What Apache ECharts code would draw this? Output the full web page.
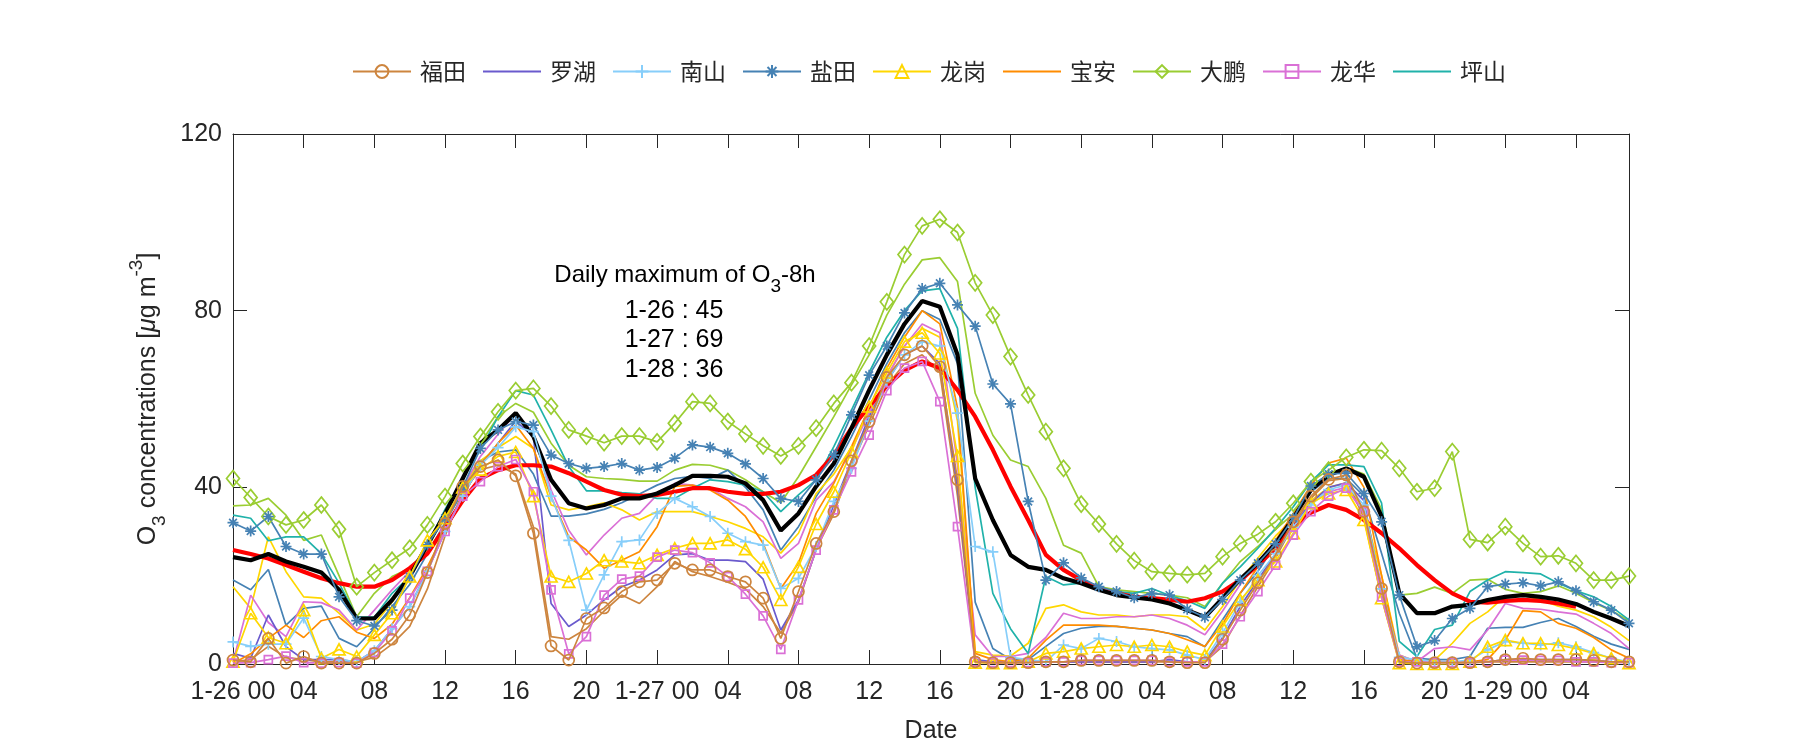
<!DOCTYPE html>
<html><head><meta charset="utf-8">
<script src="https://cdn.jsdelivr.net/npm/echarts@6/dist/echarts.min.js"></script>
<style>html,body{margin:0;padding:0;background:#fff}#c{width:1800px;height:750px}</style>
</head><body><div id="c"></div>
<script>
// ---------- tick labels / text ----------
const dayLabels = ['1-26', '1-27', '1-28', '1-29'];
const districtNames = ['福田', '罗湖', '南山', '盐田', '龙岗', '宝安', '大鹏', '龙华', '坪山'];
const annoTitle = 'Daily maximum of O{s|3}-8h';
const annoLines = ['1-26 : 45', '1-27 : 69', '1-28 : 36'];

// ---------- hourly values, h = 0 (1-26 00) ... 79 (1-29 07) ----------
const futian = [0.9,0.5,5.8,0.2,1.7,0.2,0.2,0.2,2.4,5.6,11.1,
  20.7,31.8,40.2,44.7,46.2,42.6,29.6,4.1,
  0.9,10.3,12.7,16.4,18.6,19,22.8,21.3,21.3,
  19.8,18.6,14.9,5.8,16.4,27.3,34.5,46,
  54.9,64.9,70,72,67.3,41.7,0.5,
  0.3,0.3,0.3,0.5,0.5,0.8,0.8,0.8,0.8,0.8,0.5,0.3,0.3,
  5.6,12.2,18.4,24.7,32.2,38,41.8,42.8,34.5,17.1,0.5,0.2,
  0.3,0.3,0.3,0.5,1,1.3,1,1,1,0.8,0.5,0.5];
const luohu = [2.4,1.3,11.1,3.9,1,1,1,0.5,3,8,13,
  21,30,38,45,50,55,51.5,13.7,
  8.5,11.1,14.5,17.5,19,21.3,24.7,25,23.5,
  23.5,23.2,19.2,7.7,14.5,25.8,36,46,
  56,64,70,72,68,40,1,
  0.5,0.5,0.5,0.5,0.5,0.5,0.5,0.5,0.5,0.5,1,0.5,0.5,
  6,13,19,25,31,36.5,40,41,37,16,1,0.5,
  0.5,0.5,0.5,0.5,1,1,1,1,1,0.8,0.5,0.5];
const nanshan = [5,4,4.5,4.5,10.4,1.7,1,0.5,3,8,13,
  21,30,38,45,49,53.7,52.6,38,
  28,12.2,20.2,27.7,28.1,34.1,37.5,35.6,33.4,
  29.6,27.7,26.9,17.1,19.4,26.6,36.8,44.3,
  55,64,70,73,72,56.8,26.6,
  25.4,1.5,1,0.5,4.3,3.5,5.8,5.1,3.9,3.5,3.2,2,1,
  7,14,20,25,31,36,39.5,40.5,36,17,1.5,1,
  0.5,0.5,0.9,3.2,5.1,4.7,4.3,4.8,3.9,2.6,1.3,0.5];
const yantian = [32,30.1,33.4,26.6,24.9,24.9,15.2,9.8,8.6,12.2,19.8,
  27,33,40,48.8,53,54.9,54.1,47.3,
  45.4,44.3,44.7,45.4,43.9,44.5,46.6,49.6,49.1,
  47.7,45.3,42,37.5,36.8,41.7,47.3,56.4,
  65.4,72,79.5,85,86.2,81.3,76.5,
  63.4,58.9,36.8,19,22.9,19.5,17.5,16.4,15,16,15.6,12.4,10.6,
  14.6,19,22.8,27.2,33,40.3,43,43.2,38.6,32.2,15.6,3.9,
  5.3,10.3,12.6,17.5,18.1,18.4,17.7,18.6,16.6,14.1,12.2,9.2];
const longgang = [0.5,11.5,6,4.7,12.2,1.3,3.3,1.7,6.6,11.5,19.8,
  28,33,40,44,47,48,38,19.8,
  18.6,20.5,23.5,23.2,22.8,24.7,26.2,27.3,27.3,
  28.1,26,21.9,14.5,22,31.7,39,48,
  58.3,66,73,75,70.3,47.1,0.3,
  0.2,0.2,0.5,2.4,2.8,3.5,3.9,4.3,3.9,4.3,3.9,2.8,2,
  8.5,14.5,19,23.2,29.6,36.4,38.6,39.4,32.6,14.9,0.2,0,
  0,0,0.5,3.9,5.4,4.7,4.7,4.3,3.5,2.4,1.3,0.2];
const baoan = [0.1,2.3,5.8,8.8,6,9.8,10.7,7.2,5.8,9,15,
  22,30,38,45,50,54.1,48.8,37.9,
  28.8,25.8,21.7,23.5,25.4,31.1,40.2,40.5,39.4,
  37.1,33.4,27.3,17.1,22.8,34.1,40.9,49.2,
  58,67,74,80,77,58,2.4,
  1,0.5,1.3,5.4,8.8,8.8,8.8,8.5,8.1,7.7,6.9,5.5,4,
  9,16,22,28,34,40.5,45.5,46.6,40,20,1,0.5,
  0.5,0.5,0.5,1,5.4,12.1,11.8,9.2,8.1,6,3.2,1.3];
const dapeng = [42,37.7,33.4,31.5,32.6,36,30.5,17.5,20.7,23.5,26.2,
  31.5,37.9,45.4,51.5,57.1,61.9,62.4,58.4,
  53,51.6,50.1,51.6,51.6,50.3,54.5,59.4,59,
  54.9,52.1,49.4,47.1,49.4,53.4,59,63.7,
  72,82,92.7,99.2,100.7,97.7,86.3,
  79,69.6,60.9,52.6,44.3,36.2,31.7,27.2,23.4,20.9,20.5,20.2,20.5,
  24.3,27.3,29.4,32.2,36.4,41.3,43.9,46.8,48.5,48.3,44.3,39,
  39.8,48.1,28.2,27.5,31.1,27.3,24.3,24.5,22.8,19,19,19.9];
const longhua = [0.2,0.3,1,1.8,0.3,0.2,0.3,0.2,2.6,7.5,14.9,
  21,30,38,41.3,44.7,46.3,39,16.8,
  2.3,6.2,15.6,19.2,19.9,24.2,25.8,25.2,22.9,
  19.8,15.8,10.9,3.3,14.5,25.8,34.9,43.5,
  51.8,61.9,67,68.5,59.4,31.1,0.5,
  0.3,0.3,0.3,0.5,0.5,0.8,0.8,0.8,0.8,0.8,0.5,0.5,0.5,
  4.5,10.7,16.4,22.4,29.2,34.5,38,39.8,34.5,15.2,0.5,0.5,
  0.3,0.3,0.3,0.5,0.9,0.9,0.8,0.8,0.5,0.5,0.3,0.3];
const pingshan = [33.7,33,27.9,28.8,28.8,25,18.3,10.6,10.6,16,19.8,
  27,35,42,48.5,56,61.9,60.9,53,
  44.7,39.2,39.2,38.8,38.5,37.5,37.5,39.8,41.7,
  41.3,40.5,39,34.5,38.3,41.7,49.2,57.5,
  66,74,80,84.5,85,76,40,
  16,8,2.4,19.8,17.9,18.3,17.1,16.4,16,17.1,15.5,14.3,12.6,
  18.3,22,26.2,30.7,35.6,41.3,45.1,45.1,44.7,36.4,5.1,1.7,
  7.8,8.8,16.4,19,20.9,20.7,20.4,18.3,16.6,15.2,13,10];
// lines without legend entries
const redLine = [25.8,24.9,23.9,22.4,20.9,19.4,18.3,17.5,17.5,19,21.7,
  25,31,37,42,43.9,45,45,44.7,
  43.2,41.3,39.4,38.3,38,38.3,39,39.8,39.8,
  39,38.5,38.5,39,40.5,42.8,47.3,53.4,
  58.3,63,66.5,68.5,67,62,56,
  48.5,40.2,32.6,24.7,21.3,19,17.1,16,15.2,14.9,14.5,14.1,14.9,
  16.4,19,22.4,26.2,31.1,34.3,36,34.9,32.6,29.6,26.2,22.4,
  19,16,14.1,13.9,14.3,14.5,14.3,13.7,13,null,null,null];
const blackLine = [24.2,23.5,24.9,23.2,22,20.7,16.8,10.3,10.3,14.5,19.8,
  27,34,42,50,53,56.8,51.5,41.7,
  36.4,35.2,36,37.5,37.5,38.6,40.5,42.6,42.6,
  42.4,40.9,37.1,30.2,34.1,40.2,45.4,53.4,
  62,70,77,82.2,80.9,70,42,
  32.6,24.7,22,21.3,19.4,18.3,16.8,15.6,15.1,14.6,13.7,12.2,10.6,
  14.9,19.2,22.9,27.3,33,39.4,42.8,44.3,42.4,33.4,16,11.5,
  11.5,13,13.4,14.5,15.2,15.6,15.2,14.6,13.6,11.8,10.3,8.6];
const greenPlain = [35.8,36,37.5,33.7,28,29.2,20,10.7,16,19.8,21.7,
  26,34,42,50,56,59,57,50,
  45,42.4,42,41.8,41.4,41.4,43.9,45.2,45,
  43.9,41.7,39,36.5,42.4,49.2,56,63.2,
  70,79,86,91.5,92,86.6,61.3,
  51.8,46.2,44.7,37.5,26.9,25.1,17.5,16.8,16.4,16,15.6,15,13,
  18.3,23.2,26.6,30.5,34,40,43,44.5,43,35,15.6,16,
  17.4,16,19,19.2,16.9,16,16.4,17.7,16,13.9,12.1,9.8];
const steelPlain = [19,16.8,21.4,8.8,12.6,13.1,5.8,3.9,8.1,13,18,
  25,32,39,46,48,48.5,43,33.5,
  33.5,34,35,36.5,38.5,40.5,42,42.5,42,
  43.9,40,34.9,25.8,31.1,37.9,43.9,51.5,
  59.8,68,75,80,78,68,14,
  3.5,1,1,4,6.9,8.1,8.5,8.5,8.1,7.7,6.9,6.2,3.9,
  10,16,21,27,33,39,42,42,38,25,11.5,1.3,
  1,1,1.7,8.1,8.3,8.3,9.4,10.3,8.5,6.3,4.5,3.3];
const goldPlain = [17.5,12.6,28.8,20.9,15.2,14.9,11.5,7.7,9,14,20,
  27,33,40,46,49,51.5,48.8,36,
  34.9,35.6,36.5,34.9,32.6,34.5,34.5,34.5,33.4,
  32.2,30.7,28.8,25.1,29.6,38.6,43,49,
  57,65,72,76,74,55,2.8,
  2,1.8,4.7,12.6,13.4,11.8,11.1,11.1,10.7,11.1,11.1,10.7,7.7,
  13,19,24,29,33,37,40,41,35,20,2,0.5,
  0.9,4.7,9.2,11.8,15.4,15.6,14.5,13.1,12.2,10.7,8.3,5.3];
const orchidPlain = [0.5,15.6,9.4,6.2,14.1,13.9,12.2,7.7,12.2,16.8,21,
  27,33,40,47,52,56.8,52.2,39.4,
  30.3,24.7,29.2,33,34.1,38.3,40.9,40.5,39.8,
  37.5,35.6,32.2,23.9,27.3,37.1,41.3,48.5,
  56.8,65,72,77,75,45,6.6,
  1.7,1.7,2.4,6,11.5,10.3,10.3,10.7,10.7,11.1,10.3,8.8,6.6,
  12,18,23,28,32,36.5,39,40,34,18,2,0.5,
  3.5,3.9,3.2,7.7,13.7,12.6,12.4,11.8,11.3,9.2,6.9,3.5];
const peruPlain = [0.5,1,4,1.5,1,0.5,0.5,0.5,1.5,4.5,8.5,
  17,29,39,44,45,43,31,6.2,
  5.6,8,12,15.6,13.7,17.5,23.2,20.9,19.8,
  18.5,17,13,7,14,26,34,45,
  54,63,68,70,66,38,0.5,
  0.5,0.5,0.5,0.5,0.5,0.5,0.5,0.5,0.5,0.5,0.5,0.5,0.5,
  4,11,17.5,24,31.5,37.5,41.5,42,33,15,0.5,0.3,
  0.5,0.5,0.5,0.5,0.5,0.5,0.5,0.5,0.5,0.5,0.5,0.5];

// ---------- styling ----------
const TXT = '#262626';
const FONT = '"Liberation Sans", Arial, "Noto Sans CJK SC", sans-serif';
const SYM = {
  circle: {symbol: 'circle', size: 11},
  plus: {symbol: 'path://M0,-1L0,1M-1,0L1,0', size: 11},
  star: {symbol: 'path://M0,-1L0,1M-1,0L1,0M-0.7,-0.7L0.7,0.7M-0.7,0.7L0.7,-0.7', size: 11},
  tri: {symbol: 'triangle', size: [12, 11]},
  diamond: {symbol: 'diamond', size: [13, 16]},
  square: {symbol: 'rect', size: 8}
};
function toPairs(arr) {
  const out = [];
  arr.forEach((v, i) => { if (v !== null && v !== undefined) out.push([i, v]); });
  return out;
}
function mk(name, arr, color, marker, width, z) {
  const s = {
    type: 'line', name: name, data: toPairs(arr), z: z || 2,
    silent: true, animation: false, emphasis: {disabled: true},
    lineStyle: {color: color, width: width || 1.7},
    showAllSymbol: true, clip: true
  };
  if (marker) {
    s.symbol = SYM[marker].symbol;
    s.symbolSize = SYM[marker].size;
    s.itemStyle = {color: 'rgba(0,0,0,0)', borderColor: color, borderWidth: 1.7};
  } else {
    s.symbol = 'none';
    s.itemStyle = {color: 'rgba(0,0,0,0)', borderColor: 'rgba(0,0,0,0)', borderWidth: 0};
  }
  return s;
}

const series = [
  mk('_g', greenPlain, '#9ACD32', null),
  mk('_s', steelPlain, '#4682B4', null),
  mk('_y', goldPlain, '#FFD700', null),
  mk('_o', orchidPlain, '#DA70D6', null),
  mk('_p', peruPlain, '#CD853F', null),
  mk(districtNames[1], luohu, '#6A5ACD', null, 1.7, 3),
  mk(districtNames[5], baoan, '#FF8C00', null, 1.7, 3),
  mk(districtNames[8], pingshan, '#20B2AA', null, 1.7, 3),
  mk('_red', redLine, '#FF0000', null, 4.2, 4),
  mk('_black', blackLine, '#000000', null, 4.2, 4),
  mk(districtNames[6], dapeng, '#9ACD32', 'diamond', 1.7, 5),
  mk(districtNames[3], yantian, '#4682B4', 'star', 1.7, 5),
  mk(districtNames[2], nanshan, '#87CEFA', 'plus', 1.7, 5),
  mk(districtNames[4], longgang, '#FFD700', 'tri', 1.7, 5),
  mk(districtNames[7], longhua, '#DA70D6', 'square', 1.7, 5),
  mk(districtNames[0], futian, '#CD853F', 'circle', 1.7, 6)
];

function xLabel(v) {
  if (v % 4 !== 0) return '';
  const hh = v % 24;
  if (hh === 0) return dayLabels[v / 24] + ' 00';
  return (hh < 10 ? '0' : '') + hh;
}

const axisLine = {show: true, onZero: false, lineStyle: {color: TXT, width: 1}};
const axisTick = {show: true, inside: true, length: 14, lineStyle: {color: TXT, width: 1}};
const annoStyle = {fontSize: 24, fontFamily: FONT, fill: '#000',
  textAlign: 'center', textVerticalAlign: 'middle', align: 'center', verticalAlign: 'middle'};

const chart = echarts.init(document.getElementById('c'), null, {renderer: 'canvas'});
chart.setOption({
  backgroundColor: '#ffffff',
  animation: false,
  textStyle: {fontFamily: FONT},
  grid: {left: 233, right: 171, top: 134, bottom: 86},
  legend: {
    data: districtNames, top: 55, left: 347,
    itemWidth: 58, itemHeight: 16, itemGap: 16,
    textStyle: {fontSize: 23, color: TXT, fontFamily: '"Noto Sans CJK SC", sans-serif', padding: [0, 0, 0, 4]}
  },
  xAxis: [
    {type: 'value', min: 0, max: 79, interval: 4, position: 'bottom',
     axisLine: axisLine, axisTick: axisTick, splitLine: {show: false},
     axisLabel: {formatter: xLabel, fontSize: 25, color: TXT, margin: 16, hideOverlap: false},
     name: 'Date', nameLocation: 'middle', nameGap: 55,
     nameTextStyle: {fontSize: 25, color: TXT}},
    {type: 'value', min: 0, max: 79, interval: 4, position: 'top',
     axisLine: axisLine, axisTick: axisTick, splitLine: {show: false},
     axisLabel: {show: false}}
  ],
  yAxis: [
    {type: 'value', min: 0, max: 120, interval: 40, position: 'left',
     axisLine: axisLine, axisTick: axisTick, splitLine: {show: false},
     axisLabel: {fontSize: 25, color: TXT, margin: 11},
     name: 'O{s|3} concentrations [{m|μ}g m{p|-3}]', nameLocation: 'middle', nameGap: 70, nameRotate: 90,
     nameTextStyle: {fontSize: 25, color: TXT, lineHeight: 28,
       rich: {
         s: {fontSize: 19, lineHeight: 26, padding: [24, 0, 0, 0], color: TXT},
         p: {fontSize: 19, lineHeight: 26, padding: [0, 0, 22, 0], color: TXT},
         m: {fontSize: 25, fontStyle: 'italic', color: TXT}
       }}},
    {type: 'value', min: 0, max: 120, interval: 40, position: 'right',
     axisLine: axisLine, axisTick: axisTick, splitLine: {show: false},
     axisLabel: {show: false}}
  ],
  graphic: [
    {type: 'text', x: 685, y: 275, silent: true,
     style: Object.assign({}, annoStyle, {text: annoTitle,
       rich: {s: {fontSize: 19, fontFamily: FONT, fill: '#000', lineHeight: 24, padding: [24, 0, 0, 0]}}})},
    {type: 'text', x: 674, y: 311, silent: true,
     style: Object.assign({}, annoStyle, {text: annoLines[0], fontSize: 25})},
    {type: 'text', x: 674, y: 340, silent: true,
     style: Object.assign({}, annoStyle, {text: annoLines[1], fontSize: 25})},
    {type: 'text', x: 674, y: 370, silent: true,
     style: Object.assign({}, annoStyle, {text: annoLines[2], fontSize: 25})}
  ],
  series: series
});
</script>
</body></html>
